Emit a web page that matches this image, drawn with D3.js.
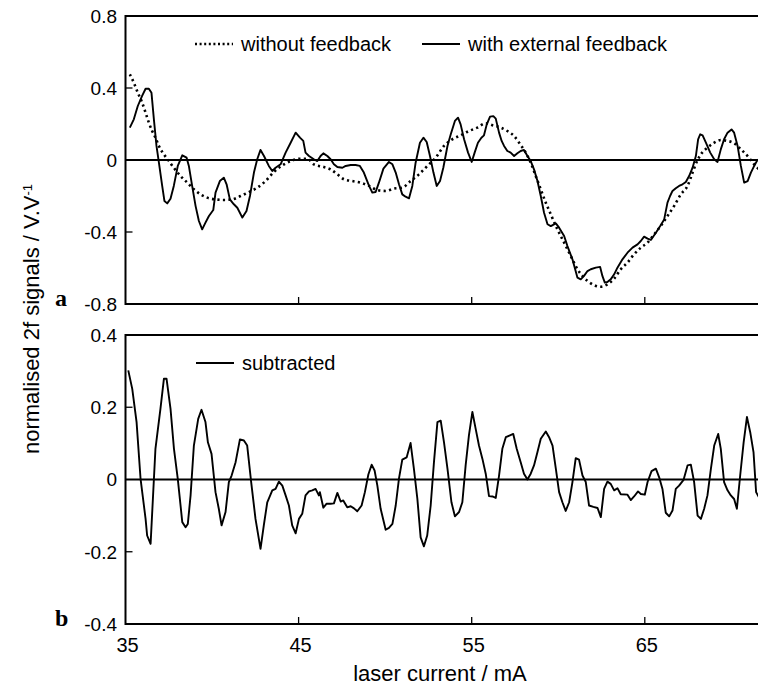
<!DOCTYPE html>
<html>
<head>
<meta charset="utf-8">
<script src="https://cdn.jsdelivr.net/npm/d3@7"></script>
<style>
  body { margin: 0; background: #fff; }
  svg { display: block; }
  text { font-family: "Liberation Sans", Arial, sans-serif; fill: #000; }
</style>
</head>
<body>
<div id="chart"></div>
<script>
// laser current (mA), signal (V/V)
var withFeedback = [
  [35.25,0.180],[35.48,0.226],[35.71,0.300],[35.96,0.356],[36.16,0.396],[36.35,0.396],[36.5,0.374],
  [36.64,0.226],[36.79,0.078],[36.93,-0.015],[37.12,-0.144],[37.25,-0.228],[37.41,-0.241],[37.6,-0.215],
  [37.79,-0.144],[38.02,-0.033],[38.28,0.026],[38.53,0.013],[38.66,-0.033],[38.85,-0.144],[39.05,-0.256],
  [39.24,-0.339],[39.43,-0.385],[39.62,-0.348],[39.82,-0.311],[40.07,-0.278],[40.2,-0.181],[40.45,-0.117],
  [40.68,-0.098],[40.84,-0.135],[41.03,-0.219],[41.26,-0.246],[41.46,-0.265],[41.75,-0.320],[41.99,-0.283],
  [42.19,-0.200],[42.42,-0.070],[42.61,0.004],[42.8,0.056],[43.0,0.022],[43.28,-0.033],[43.48,-0.061],
  [43.67,-0.043],[43.96,-0.024],[44.25,0.041],[44.54,0.096],[44.83,0.152],[45.08,0.124],[45.27,0.106],
  [45.4,0.041],[45.6,0.022],[45.88,0.004],[46.08,-0.006],[46.27,0.022],[46.43,0.037],[46.66,0.022],
  [46.85,0.004],[47.04,-0.024],[47.24,-0.039],[47.53,-0.043],[47.72,-0.033],[48.01,-0.028],[48.29,-0.028],
  [48.54,-0.033],[48.77,-0.070],[49.07,-0.144],[49.26,-0.181],[49.45,-0.178],[49.64,-0.126],[49.9,-0.048],
  [50.22,-0.011],[50.42,-0.024],[50.61,-0.070],[50.8,-0.135],[50.99,-0.191],[51.18,-0.204],[51.38,-0.213],
  [51.57,-0.144],[51.76,-0.015],[52.01,0.096],[52.21,0.124],[52.4,0.100],[52.59,0.022],[52.79,-0.070],
  [52.98,-0.144],[53.17,-0.117],[53.36,-0.043],[53.6,0.078],[53.79,0.143],[54.03,0.217],[54.21,0.235],
  [54.36,0.198],[54.56,0.115],[54.79,0.041],[55.0,-0.011],[55.17,0.041],[55.36,0.096],[55.56,0.124],
  [55.71,0.137],[55.87,0.198],[56.06,0.241],[56.25,0.244],[56.39,0.230],[56.58,0.152],[56.73,0.106],
  [56.87,0.078],[57.06,0.050],[57.25,0.041],[57.45,0.022],[57.64,0.037],[57.83,0.050],[58.02,0.056],
  [58.22,0.022],[58.41,-0.006],[58.6,-0.052],[58.8,-0.117],[58.99,-0.200],[59.18,-0.293],[59.38,-0.357],
  [59.57,-0.367],[59.86,-0.352],[60.05,-0.376],[60.34,-0.422],[60.53,-0.478],[60.82,-0.552],[61.11,-0.654],
  [61.3,-0.663],[61.49,-0.644],[61.69,-0.617],[61.88,-0.607],[62.17,-0.598],[62.42,-0.594],[62.55,-0.644],
  [62.69,-0.681],[62.84,-0.678],[63.03,-0.663],[63.23,-0.635],[63.42,-0.598],[63.71,-0.552],[64.0,-0.515],
  [64.29,-0.487],[64.58,-0.469],[64.77,-0.450],[64.96,-0.426],[65.16,-0.437],[65.35,-0.444],[65.64,-0.404],
  [65.89,-0.367],[66.12,-0.330],[66.31,-0.237],[66.46,-0.200],[66.6,-0.172],[66.79,-0.157],[66.98,-0.144],
  [67.18,-0.135],[67.37,-0.122],[67.56,-0.089],[67.76,-0.043],[67.95,0.022],[68.08,0.115],[68.2,0.143],
  [68.34,0.137],[68.53,0.096],[68.78,0.041],[69.01,0.004],[69.2,-0.011],[69.39,0.059],[69.58,0.115],
  [69.78,0.152],[70.01,0.170],[70.16,0.152],[70.36,0.078],[70.55,-0.033],[70.74,-0.126],[70.94,-0.117],
  [71.13,-0.070],[71.32,-0.033],[71.47,-0.006],[71.59,0.004]
];

var withoutFeedback = [
  [35.25,0.476],[35.48,0.430],[35.71,0.374],[35.96,0.319],[36.16,0.263],[36.35,0.207],[36.54,0.161],
  [36.73,0.124],[36.93,0.078],[37.22,0.031],[37.51,-0.006],[37.79,-0.043],[38.18,-0.089],[38.57,-0.126],
  [38.95,-0.163],[39.34,-0.191],[39.72,-0.209],[40.2,-0.219],[40.68,-0.222],[41.16,-0.219],[41.65,-0.200],
  [42.13,-0.178],[42.61,-0.154],[43.09,-0.117],[43.57,-0.067],[44.06,-0.030],[44.54,-0.006],[45.12,0.007],
  [45.5,0.007],[45.88,-0.024],[46.46,-0.039],[46.85,-0.052],[47.24,-0.080],[47.62,-0.107],[48.1,-0.117],
  [48.58,-0.126],[49.07,-0.144],[49.55,-0.167],[50.03,-0.172],[50.51,-0.159],[50.99,-0.154],[51.47,-0.117],
  [51.95,-0.080],[52.44,-0.033],[52.92,0.013],[53.4,0.078],[53.88,0.115],[54.36,0.137],[54.84,0.161],
  [55.33,0.180],[55.81,0.204],[56.2,0.193],[56.68,0.180],[57.06,0.161],[57.45,0.133],[57.74,0.096],
  [58.12,0.041],[58.41,-0.015],[58.7,-0.089],[58.99,-0.163],[59.28,-0.237],[59.57,-0.302],[59.95,-0.385],
  [60.34,-0.459],[60.72,-0.533],[61.11,-0.607],[61.49,-0.654],[61.88,-0.685],[62.42,-0.704],[62.84,-0.691],
  [63.23,-0.659],[63.61,-0.607],[64.0,-0.570],[64.38,-0.524],[64.77,-0.487],[65.16,-0.459],[65.54,-0.413],
  [65.92,-0.367],[66.31,-0.311],[66.69,-0.256],[67.08,-0.191],[67.47,-0.144],[67.76,-0.070],[68.05,0.000],
  [68.34,0.044],[68.62,0.069],[69.01,0.096],[69.39,0.111],[69.78,0.106],[70.16,0.093],[70.55,0.059],
  [70.94,0.022],[71.32,-0.024],[71.59,-0.052]
];

var subtracted = [
  [35.16,0.302],[35.39,0.251],[35.64,0.159],[35.87,0.002],[36.16,-0.109],[36.25,-0.155],[36.45,-0.178],
  [36.73,0.085],[37.02,0.196],[37.22,0.279],[37.37,0.279],[37.6,0.196],[37.8,0.085],[38.02,0.002],
  [38.28,-0.118],[38.47,-0.132],[38.6,-0.123],[38.76,-0.044],[38.95,0.094],[39.2,0.168],[39.39,0.193],
  [39.62,0.159],[39.76,0.103],[39.97,0.071],[40.2,-0.035],[40.39,-0.081],[40.55,-0.127],[40.78,-0.090],
  [40.97,-0.007],[41.13,0.011],[41.36,0.048],[41.61,0.111],[41.84,0.108],[42.03,0.094],[42.26,-0.007],
  [42.51,-0.109],[42.8,-0.192],[42.99,-0.127],[43.19,-0.063],[43.48,-0.030],[43.67,-0.026],[43.86,-0.006],
  [44.06,-0.017],[44.25,-0.044],[44.44,-0.072],[44.63,-0.127],[44.83,-0.149],[45.02,-0.109],[45.21,-0.095],
  [45.4,-0.044],[45.6,-0.033],[45.79,-0.030],[45.98,-0.026],[46.17,-0.044],[46.23,-0.035],[46.43,-0.078],
  [46.62,-0.067],[46.85,-0.067],[47.04,-0.066],[47.24,-0.037],[47.43,-0.061],[47.58,-0.058],[47.81,-0.077],
  [48.01,-0.074],[48.2,-0.080],[48.39,-0.088],[48.64,-0.072],[48.83,-0.035],[49.03,0.014],[49.22,0.041],
  [49.39,0.025],[49.55,-0.017],[49.74,-0.081],[50.03,-0.139],[50.22,-0.134],[50.42,-0.123],[50.61,-0.072],
  [50.8,0.003],[50.99,0.055],[51.24,0.061],[51.47,0.101],[51.66,0.030],[51.86,-0.053],[52.05,-0.160],
  [52.24,-0.185],[52.43,-0.155],[52.63,-0.072],[52.82,0.048],[53.02,0.159],[53.21,0.163],[53.4,0.103],
  [53.6,0.030],[53.83,-0.063],[54.03,-0.102],[54.27,-0.090],[54.46,-0.063],[54.65,0.039],[54.84,0.122],
  [55.04,0.187],[55.23,0.140],[55.42,0.094],[55.62,0.057],[55.81,0.016],[56.0,-0.046],[56.2,-0.047],
  [56.39,-0.051],[56.58,0.011],[56.77,0.085],[56.97,0.117],[57.21,0.122],[57.4,0.126],[57.6,0.085],
  [57.83,0.048],[58.02,0.016],[58.22,0.000],[58.41,0.016],[58.6,0.039],[58.8,0.076],[58.99,0.113],
  [59.28,0.133],[59.47,0.117],[59.67,0.094],[59.86,0.030],[60.05,-0.035],[60.24,-0.063],[60.43,-0.087],
  [60.63,-0.063],[60.82,-0.007],[61.01,0.059],[61.2,0.055],[61.4,0.011],[61.59,-0.007],[61.78,-0.072],
  [62.03,-0.076],[62.27,-0.079],[62.46,-0.104],[62.65,-0.026],[62.84,-0.006],[63.03,-0.012],[63.23,-0.030],
  [63.42,-0.024],[63.61,-0.041],[64.0,-0.042],[64.19,-0.057],[64.38,-0.047],[64.61,-0.033],[64.77,-0.040],
  [65.0,-0.042],[65.16,-0.007],[65.39,0.023],[65.64,0.030],[65.83,0.006],[66.02,-0.026],[66.21,-0.092],
  [66.41,-0.102],[66.6,-0.086],[66.79,-0.026],[66.98,-0.017],[67.24,-0.001],[67.47,0.039],[67.66,0.041],
  [67.85,-0.007],[68.05,-0.100],[68.24,-0.109],[68.43,-0.081],[68.62,-0.044],[68.82,0.030],[69.01,0.094],
  [69.24,0.126],[69.39,0.085],[69.58,-0.007],[69.78,-0.030],[69.97,-0.044],[70.16,-0.054],[70.32,-0.081],
  [70.51,0.011],[70.71,0.103],[70.9,0.173],[71.09,0.131],[71.28,0.076],[71.43,-0.035],[71.59,-0.049]
];

var xTicks = [35, 45, 55, 65];
var topTicks = [0.8, 0.4, 0, -0.4, -0.8];
var bottomTicks = [0.4, 0.2, 0, -0.2, -0.4];

var width = 758, height = 686;
var left = 125.5, right = 758;

var svg = d3.select("#chart").append("svg")
  .attr("width", width)
  .attr("height", height);

var x = d3.scaleLinear().domain([35, 72]).range([left, left + 37 * 17.31]);
var yTop = d3.scaleLinear().domain([-0.8, 0.8]).range([304, 16]);
var yBottom = d3.scaleLinear().domain([-0.4, 0.4]).range([624, 335]);

function drawPanel(id, y, ticks) {
  var g = svg.append("g");
  var top = y.range()[1], bottom = y.range()[0];

  svg.append("clipPath").attr("id", id)
    .append("rect")
    .attr("x", left).attr("y", top)
    .attr("width", right - left).attr("height", bottom - top);

  // y tick labels
  g.selectAll(".ylab").data(ticks).enter()
    .append("text")
    .attr("x", 117)
    .attr("y", function(d){ return y(d); })
    .attr("dy", "0.36em")
    .attr("text-anchor", "end")
    .style("font-size", "19px")
    .text(function(d){ return String(d); });

  // inner ticks on the left, skipping the corners and zero
  g.selectAll(".ytick").data(ticks.filter(function(d){ return d != 0 && Math.abs(d) != y.domain()[1]; })).enter()
    .append("line")
    .attr("x1", left).attr("x2", left + 7)
    .attr("y1", function(d){ return y(d); })
    .attr("y2", function(d){ return y(d); })
    .attr("stroke", "#000").attr("stroke-width", 1.3);

  // inner ticks on the bottom
  g.selectAll(".xtick").data(xTicks.slice(1)).enter()
    .append("line")
    .attr("x1", function(d){ return x(d); })
    .attr("x2", function(d){ return x(d); })
    .attr("y1", bottom).attr("y2", bottom - 7)
    .attr("stroke", "#000").attr("stroke-width", 1.3);

  // zero line
  g.append("line")
    .attr("x1", left).attr("x2", right)
    .attr("y1", y(0)).attr("y2", y(0))
    .attr("stroke", "#000").attr("stroke-width", 2);

  // frame, open on the right
  g.append("path")
    .attr("d", "M" + right + "," + top + "H" + left + "V" + bottom + "H" + right)
    .attr("fill", "none").attr("stroke", "#000").attr("stroke-width", 2);

  return g;
}

function curve(y) {
  return d3.line()
    .x(function(d){ return x(d[0]); })
    .y(function(d){ return y(d[1]); });
}

var gTop = drawPanel("clipTop", yTop, topTicks);
var gBottom = drawPanel("clipBottom", yBottom, bottomTicks);

gTop.append("path")
  .datum(withoutFeedback)
  .attr("clip-path", "url(#clipTop)")
  .attr("d", curve(yTop).curve(d3.curveMonotoneX))
  .attr("fill", "none")
  .attr("stroke", "#000")
  .attr("stroke-width", 2.6)
  .attr("stroke-dasharray", "2.2,3.3");

gTop.append("path")
  .datum(withFeedback)
  .attr("clip-path", "url(#clipTop)")
  .attr("d", curve(yTop))
  .attr("fill", "none")
  .attr("stroke", "#000")
  .attr("stroke-width", 1.9)
  .attr("stroke-linejoin", "round");

gBottom.append("path")
  .datum(subtracted)
  .attr("clip-path", "url(#clipBottom)")
  .attr("d", curve(yBottom))
  .attr("fill", "none")
  .attr("stroke", "#000")
  .attr("stroke-width", 1.9)
  .attr("stroke-linejoin", "round");

// legends
function legendItem(g, x0, y0, label, dashed) {
  g.append("line")
    .attr("x1", x0).attr("x2", x0 + 38)
    .attr("y1", y0).attr("y2", y0)
    .attr("stroke", "#000")
    .attr("stroke-width", dashed ? 2.4 : 1.8)
    .attr("stroke-dasharray", dashed ? "2,2.6" : null);
  g.append("text")
    .attr("x", x0 + 46).attr("y", y0)
    .attr("dy", "0.35em")
    .style("font-size", "20px")
    .text(label);
}
legendItem(gTop, 195, 44, "without feedback", true);
legendItem(gTop, 422, 44, "with external feedback", false);
legendItem(gBottom, 196, 363, "subtracted", false);

// x tick labels under the lower panel
svg.selectAll(".xlab").data(xTicks).enter()
  .append("text")
  .attr("x", function(d){ return x(d) + 2; })
  .attr("y", 652)
  .attr("text-anchor", "middle")
  .style("font-size", "20px")
  .text(function(d){ return d; });

svg.append("text")
  .attr("x", 440).attr("y", 681)
  .attr("text-anchor", "middle")
  .style("font-size", "22px")
  .text("laser current / mA");

var ytitle = svg.append("text")
  .attr("transform", "translate(39,319) rotate(-90)")
  .attr("text-anchor", "middle")
  .style("font-size", "22px");
ytitle.append("tspan").text("normalised 2f signals / V.V");
ytitle.append("tspan").attr("dy", "-0.55em").style("font-size", "13px").text("-1");

// panel letters
svg.append("text").attr("x", 55).attr("y", 306)
  .style("font-family", "'Liberation Serif', 'Times New Roman', serif")
  .style("font-weight", "bold").style("font-size", "24px").text("a");
svg.append("text").attr("x", 55).attr("y", 626)
  .style("font-family", "'Liberation Serif', 'Times New Roman', serif")
  .style("font-weight", "bold").style("font-size", "24px").text("b");
</script>
</body>
</html>
